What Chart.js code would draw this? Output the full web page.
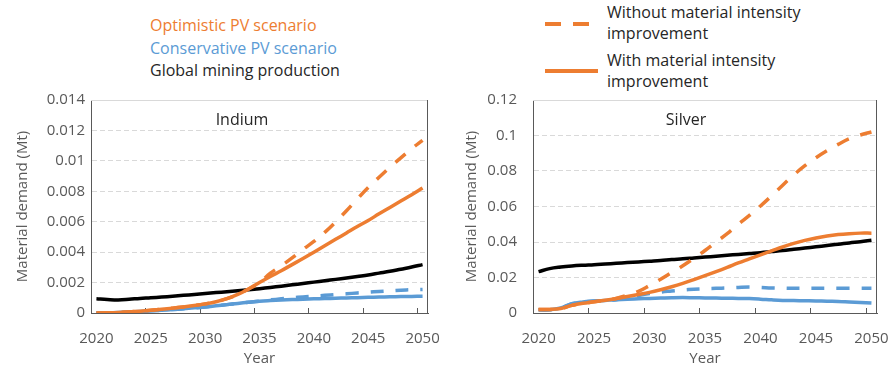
<!DOCTYPE html>
<html>
<head>
<meta charset="utf-8">
<script src="https://cdn.jsdelivr.net/npm/chart.js@4/dist/chart.umd.min.js"></script>
<style>
  html, body { margin: 0; padding: 0; background: #ffffff; }
  body { width: 890px; height: 369px; position: relative; overflow: hidden; font-family: "Open Sans", sans-serif; }
  .box { position: absolute; width: 445px; height: 279px; top: 90px; }
  .legend-left { position: absolute; left: 150px; top: 14px; font-size: 16px; line-height: 22.5px; }
  .legend-right { position: absolute; left: 607px; top: 2px; font-size: 16px; line-height: 21px; color: #262626; }
  .legend-right .entry { margin-bottom: 6px; }
  svg.keys { position: absolute; left: 540px; top: 0; }
</style>
</head>
<body>
<div class="legend-left">
  <div style="color:#ED7D31">Optimistic PV scenario</div>
  <div style="color:#5B9BD5">Conservative PV scenario</div>
  <div style="color:#262626">Global mining production</div>
</div>
<svg class="keys" width="70" height="90">
  <line x1="5" y1="24" x2="49" y2="24" stroke="#ED7D31" stroke-width="4" stroke-dasharray="16 12"/>
  <line x1="5" y1="71" x2="58" y2="71" stroke="#ED7D31" stroke-width="4"/>
</svg>
<div class="legend-right">
  <div class="entry">Without material intensity<br>improvement</div>
  <div class="entry">With material intensity<br>improvement</div>
</div>
<div class="box" style="left:0"><canvas id="indium" width="445" height="279"></canvas></div>
<div class="box" style="left:445px"><canvas id="silver" width="445" height="279"></canvas></div>
<script>
// Years on the category axis
const years = ['2020','2021','2022','2023','2024','2025','2026','2027','2028','2029','2030',
  '2031','2032','2033','2034','2035','2036','2037','2038','2039','2040',
  '2041','2042','2043','2044','2045','2046','2047','2048','2049','2050'];

// Indium demand (Mt)
const inMining = [0.00094,0.00089,0.00086,0.00090,0.00096,0.00100,0.00105,0.00110,0.00116,0.00122,0.00128,
  0.00134,0.00140,0.00147,0.00153,0.00160,0.00168,0.00176,0.00185,0.00194,0.00203,
  0.00212,0.00221,0.00230,0.00240,0.00250,0.00262,0.00274,0.00288,0.00302,0.00318];
const inOptWith = [0,0.00001,0.00003,0.00007,0.00012,0.00018,0.00025,0.00032,0.00040,0.00049,0.00060,
  0.00074,0.00094,0.00122,0.00158,0.00200,0.00240,0.00278,0.00318,0.00358,0.00400,
  0.00442,0.00484,0.00526,0.00568,0.00608,0.00652,0.00694,0.00736,0.00778,0.00822];
const inOptWithout = [0,0.00001,0.00003,0.00007,0.00012,0.00018,0.00025,0.00032,0.00040,0.00049,0.00060,
  0.00074,0.00094,0.00122,0.00158,0.00200,0.00262,0.00310,0.00362,0.00418,0.00470,
  0.00530,0.00598,0.00672,0.00750,0.00825,0.00892,0.00958,0.01020,0.01080,0.01135];
const inConsWith = [0,0.00001,0.00003,0.00006,0.00010,0.00014,0.00018,0.00023,0.00028,0.00034,0.00040,
  0.00047,0.00055,0.00063,0.00071,0.00078,0.00082,0.00085,0.00088,0.00090,0.00093,
  0.00095,0.00097,0.00099,0.00101,0.00103,0.00105,0.00106,0.00108,0.00109,0.00110];
const inConsWithout = [0,0.00001,0.00003,0.00006,0.00010,0.00014,0.00018,0.00023,0.00028,0.00034,0.00040,
  0.00047,0.00055,0.00063,0.00071,0.00078,0.00086,0.00093,0.00100,0.00106,0.00111,
  0.00116,0.00121,0.00126,0.00132,0.00137,0.00142,0.00146,0.00150,0.00153,0.00155];

// Silver demand (Mt)
const agMining = [0.0233,0.0250,0.0259,0.0265,0.0269,0.0272,0.0276,0.0280,0.0284,0.0288,0.0292,
  0.0296,0.0301,0.0305,0.0310,0.0315,0.0320,0.0325,0.0330,0.0335,0.0340,
  0.0346,0.0352,0.0359,0.0366,0.0373,0.0380,0.0387,0.0395,0.0402,0.0410];
const agOptWith = [0.0020,0.0020,0.0025,0.0043,0.0055,0.0063,0.0072,0.0082,0.0093,0.0104,0.0116,
  0.0131,0.0148,0.0167,0.0188,0.0210,0.0233,0.0257,0.0282,0.0305,0.0328,
  0.0350,0.0372,0.0392,0.0409,0.0423,0.0434,0.0442,0.0447,0.0450,0.0450];
const agOptWithout = [0.0020,0.0020,0.0025,0.0043,0.0055,0.0063,0.0072,0.0082,0.0100,0.0122,0.0155,
  0.0190,0.0228,0.0266,0.0308,0.0352,0.0400,0.0447,0.0500,0.0550,0.0603,
  0.0660,0.0720,0.0778,0.0830,0.0875,0.0915,0.0950,0.0982,0.1003,0.1020];
const agConsWith = [0.0018,0.0018,0.0028,0.0052,0.0062,0.0067,0.0071,0.0075,0.0078,0.0080,0.0082,
  0.0084,0.0086,0.0087,0.0086,0.0085,0.0084,0.0083,0.0082,0.0081,0.0078,
  0.0074,0.0071,0.0070,0.0069,0.0068,0.0066,0.0065,0.0062,0.0059,0.0056];
const agConsWithout = [0.0018,0.0018,0.0028,0.0052,0.0062,0.0067,0.0071,0.0075,0.0086,0.0099,0.0110,
  0.0118,0.0124,0.0130,0.0134,0.0137,0.0139,0.0141,0.0144,0.0146,0.0144,
  0.0141,0.0140,0.0139,0.0139,0.0139,0.0139,0.0139,0.0139,0.0139,0.0139];

const ORANGE = '#ED7D31', BLUE = '#5B9BD5', BLACK = '#000000';
const AXIS = '#595959', TEXT = '#595959';
const FONT = '"Open Sans", sans-serif';

// Frame on top/right, plus Excel-style inward tick marks between categories
const framePlugin = {
  id: 'frame',
  beforeDatasetsDraw(chart) {
    const {ctx, chartArea: a, scales} = chart;
    ctx.save();
    ctx.lineWidth = 1;
    ctx.strokeStyle = '#d9d9d9';
    ctx.beginPath(); ctx.moveTo(a.left, a.top + 0.5); ctx.lineTo(a.right, a.top + 0.5); ctx.stroke();
    ctx.strokeStyle = AXIS;
    ctx.beginPath(); ctx.moveTo(a.right - 0.5, a.top); ctx.lineTo(a.right - 0.5, a.bottom); ctx.stroke();
    const x = scales.x;
    for (let i = 5; i < years.length; i += 5) {
      const px = Math.round((x.getPixelForTick(i - 1) + x.getPixelForTick(i)) / 2) + 0.5;
      ctx.beginPath(); ctx.moveTo(px, a.bottom); ctx.lineTo(px, a.bottom - 5); ctx.stroke();
    }
    ctx.restore();
  }
};

function line(data, color, dashed) {
  return {
    data, borderColor: color, backgroundColor: color, borderWidth: 3.5,
    borderDash: dashed ? [13, 12] : [], pointRadius: 0, fill: false,
    tension: 0.4, borderCapStyle: 'butt'
  };
}

function makeChart(id, opts) {
  return new Chart(document.getElementById(id), {
    type: 'line',
    data: {
      labels: years,
      datasets: [
        line(opts.optWith, ORANGE, false),
        line(opts.optWithout, ORANGE, true),
        line(opts.consWithout, BLUE, true),
        line(opts.consWith, BLUE, false),
        line(opts.mining, BLACK, false)
      ]
    },
    options: {
      responsive: false, animation: false,
      layout: { padding: { left: 0, top: 10, right: opts.padRight, bottom: 0 } },
      plugins: {
        legend: { display: false }, tooltip: { enabled: false },
        title: { display: false }
      },
      scales: {
        x: {
          type: 'category', offset: true,
          grid: { display: false, drawTicks: false },
          border: { display: true, color: AXIS, width: 1 },
          ticks: {
            autoSkip: false, maxRotation: 0, padding: 17, color: TEXT,
            font: { family: FONT, size: 15 },
            callback: (v, i) => (i % 5 === 0 ? years[i] : '')
          },
          title: { display: true, text: 'Year', color: TEXT, font: { family: FONT, size: 15 }, padding: { top: 0, bottom: 1 } },
          afterFit: s => { s.height = 56; s.paddingLeft = 0; s.paddingRight = 0; }
        },
        y: {
          min: 0, max: opts.max,
          grid: {
            drawTicks: false,
            color: c => (c.tick && c.tick.value > 0 && c.tick.value < opts.max - 1e-9 ? '#d9d9d9' : 'rgba(0,0,0,0)'),
            lineWidth: 1
          },
          border: { display: true, color: AXIS, width: 1, dash: [5, 3] },
          ticks: {
            stepSize: opts.step, padding: opts.tickPad, color: TEXT,
            font: { family: FONT, size: 15 },
            callback: v => String(+v.toFixed(4))
          },
          title: { display: true, text: 'Material demand (Mt)', color: TEXT, font: { family: FONT, size: 15 }, padding: { top: opts.titlePad, bottom: 0 } },
          afterFit: s => { s.width = opts.axisWidth; s.paddingTop = 0; s.paddingBottom = 0; }
        }
      }
    },
    plugins: [framePlugin, {
      id: 'label',
      afterDraw(chart) {
        const {ctx, chartArea: a} = chart;
        ctx.save();
        ctx.fillStyle = '#262626';
        ctx.font = '16px ' + FONT;
        ctx.textAlign = 'center';
        ctx.textBaseline = 'middle';
        ctx.fillText(opts.name, opts.nameX, a.top + 20);
        ctx.restore();
      }
    }]
  });
}

makeChart('indium', {
  name: 'Indium', nameX: 242, max: 0.014, step: 0.002,
  axisWidth: 91, padRight: 17, tickPad: 6, titlePad: 14,
  mining: inMining, optWith: inOptWith, optWithout: inOptWithout,
  consWith: inConsWith, consWithout: inConsWithout
});
makeChart('silver', {
  name: 'Silver', nameX: 241, max: 0.12, step: 0.02,
  axisWidth: 88, padRight: 13, tickPad: 16, titlePad: 18,
  mining: agMining, optWith: agOptWith, optWithout: agOptWithout,
  consWith: agConsWith, consWithout: agConsWithout
});
</script>
</body>
</html>
